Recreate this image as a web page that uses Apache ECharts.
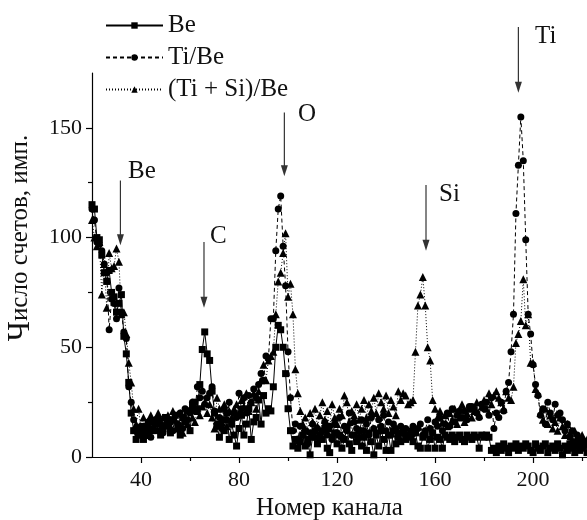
<!DOCTYPE html>
<html>
<head>
<meta charset="utf-8">
<script src="https://cdn.jsdelivr.net/npm/echarts@6/dist/echarts.min.js"></script>
<style>html,body{margin:0;padding:0;background:#fff}#c{width:587px;height:520px}</style>
</head>
<body>
<div id="c"></div>
<script>
// channel numbers start at this value, one value per channel
const firstChannel = 20;
const seriesNames = ['Be', 'Ti/Be', '(Ti + Si)/Be'];

const beCounts = [
  115,113,100,99,92,84,80,85,75,73,
  66,70,74,55,47,34,20,12,8,10,
  13,8,14,11,16,12,15,17,10,13,
  18,15,11,17,19,14,10,18,16,21,
  12,23,25,22,33,49,57,47,44,30,
  20,14,9,17,12,20,8,15,10,5,
  13,19,10,15,22,8,16,18,26,15,
  28,20,22,21,32,50,60,58,50,38,
  22,12,5,8,4,7,10,5,8,1,
  9,12,6,10,8,13,4,2,9,11,
  6,10,4,8,13,6,3,10,7,12,
  5,9,3,11,7,1,10,5,12,8,
  3,10,3,12,6,9,7,11,8,10,
  9,7,11,5,4,9,10,4,8,11,
  4,9,8,4,10,9,8,10,7,9,
  10,8,7,10,9,8,10,9,4,10,
  9,10,9,3,4,2,5,3,6,4,
  2,5,4,6,3,5,4,6,5,3,
  2,6,4,3,5,6,2,4,5,3,
  6,4,1,5,3,6,4,2,5,3,
  4,6,2
];

const tiBeCounts = [
  113,108,98,97,94,88,84,58,72,70,
  63,77,66,57,54,32,25,17,12,10,
  14,10,12,16,9,13,17,12,15,11,
  18,14,16,12,19,15,20,13,22,17,
  20,25,21,32,27,30,24,27,29,32,
  21,15,18,13,22,17,25,15,20,18,
  29,22,27,20,28,25,31,27,33,38,
  35,46,45,63,63,94,113,119,96,78,
  48,27,12,15,8,14,10,12,6,11,
  15,9,13,8,12,16,10,14,8,15,
  11,18,9,14,12,20,10,16,13,9,
  17,12,15,10,18,13,11,17,14,19,
  12,16,10,15,13,11,14,12,13,10,
  12,14,11,13,15,10,12,17,13,11,
  16,14,18,12,15,20,14,22,16,19,
  21,18,21,17,23,23,22,20,18,24,
  22,25,19,27,13,20,18,25,21,30,
  34,48,65,111,133,155,135,99,65,56,
  42,33,28,19,22,15,25,20,17,24,
  19,20,17,12,15,9,12,7,10,6,
  8,5,7
];

const tiSiBeCounts = [
  108,100,96,98,74,88,68,93,86,87,
  95,89,65,66,56,43,34,22,15,22,
  12,18,10,15,19,14,17,20,13,18,
  16,19,14,21,17,13,20,11,18,15,
  22,18,16,21,19,23,25,20,24,18,
  13,27,22,16,24,14,21,18,22,24,
  20,26,23,29,21,25,29,22,30,35,
  42,35,44,46,48,65,80,84,93,102,
  73,79,65,40,29,21,15,18,12,20,
  16,22,14,19,25,17,21,13,24,18,
  15,22,19,28,25,16,21,19,24,17,
  22,26,18,24,21,27,20,29,25,22,
  28,20,26,23,19,30,26,29,28,24,
  25,26,48,69,74,82,69,50,44,26,
  22,18,21,16,19,14,20,17,22,15,
  18,24,16,20,22,18,21,25,19,23,
  26,22,29,24,28,30,27,25,22,30,
  27,26,32,52,56,62,81,60,65,43,
  43,31,29,20,17,22,15,19,13,16,
  12,18,14,10,15,11,8,12,9,6,
  10,7,8
];

// peak annotations (arrow from top to tip, label beside)
const peakLabels = ['Be', 'C', 'O', 'Si', 'Ti'];
const arrowChannel = [31.6, 65.7, 98.5, 156.3, 194.0];
const arrowTop = [126, 98, 157, 124, 196];
const arrowTip = [96.5, 68, 128, 94, 166];
const labelChannel = [34.7, 68.2, 104.1, 161.6, 200.8];
const labelCount = [130, 100.3, 156, 119.5, 191.5];

const xMajorTicks = [40, 80, 120, 160, 200];
const xMinorTicks = [60, 100, 140, 180, 220];
const yMajorTicks = [0, 50, 100, 150];
const yMinorTicks = [25, 75, 125];

const FONT = '"Liberation Serif", "Times New Roman", serif';
const toPairs = arr => arr.map((v, i) => [firstChannel + i, v]);

const chart = echarts.init(document.getElementById('c'), null, {renderer: 'canvas'});

const lineSeries = (name, data, symbol, size, type) => ({
  name, type: 'line', data: toPairs(data),
  symbol, symbolSize: size,
  showAllSymbol: true,
  itemStyle: {color: '#000'},
  lineStyle: {color: '#000', width: 1, type},
  emphasis: {disabled: true},
  z: 3
});

const annotationData = peakLabels.map((n, i) => [arrowChannel[i], arrowTop[i], arrowTip[i], labelChannel[i], labelCount[i]]);

chart.setOption({
  animation: false,
  backgroundColor: '#fff',
  grid: {left: 92, right: 0, top: 73, bottom: 63, containLabel: false, outerBoundsMode: 'none'},
  legend: {
    data: seriesNames,
    orient: 'vertical',
    left: 100, top: 8,
    itemWidth: 57, itemHeight: 8, itemGap: 7,
    textStyle: {fontFamily: FONT, fontSize: 25, color: '#111'},
    selectedMode: false
  },
  xAxis: [{
    type: 'value', min: 20, max: 222, position: 'bottom',
    name: 'Номер канала', nameLocation: 'middle', nameGap: 36,
    nameTextStyle: {fontFamily: FONT, fontSize: 25, color: '#111', padding: [0, 20, 0, 0]},
    axisLine: {lineStyle: {color: '#000', width: 1.2}},
    axisTick: {customValues: xMajorTicks, length: 6, inside: false, lineStyle: {color: '#000', width: 1.2}},
    axisLabel: {customValues: xMajorTicks, fontFamily: FONT, fontSize: 22, color: '#111', margin: 12},
    splitLine: {show: false}
  }, {
    type: 'value', min: 20, max: 222, position: 'bottom', offset: 0,
    axisLine: {show: false},
    axisTick: {customValues: xMinorTicks, length: 4, lineStyle: {color: '#000', width: 1.2}},
    axisLabel: {show: false},
    splitLine: {show: false}
  }],
  yAxis: [{
    type: 'value', min: 0, max: 175, position: 'left',
    name: '{big|Ч}исло счетов, имп.', nameLocation: 'middle', nameGap: 56, nameRotate: 90,
    nameTextStyle: {fontFamily: FONT, fontSize: 25, color: '#111', padding: [0, 0, 0, 54],
      rich: {big: {fontFamily: FONT, fontSize: 31, color: '#111'}}},
    axisLine: {lineStyle: {color: '#000', width: 1.2}},
    axisTick: {customValues: yMajorTicks, length: 6, lineStyle: {color: '#000', width: 1.2}},
    axisLabel: {customValues: yMajorTicks, fontFamily: FONT, fontSize: 22, color: '#111', margin: 10},
    splitLine: {show: false}
  }, {
    type: 'value', min: 0, max: 175, position: 'left', offset: 0,
    axisLine: {show: false},
    axisTick: {customValues: yMinorTicks, length: 4, lineStyle: {color: '#000', width: 1.2}},
    axisLabel: {show: false},
    splitLine: {show: false}
  }],
  series: [
    lineSeries(seriesNames[0], beCounts, 'rect', 7, 'solid'),
    lineSeries(seriesNames[1], tiBeCounts, 'circle', 7, [4, 3]),
    lineSeries(seriesNames[2], tiSiBeCounts, 'triangle', 8, [1, 2]),
    {
      type: 'custom', name: 'peaks', silent: true, clip: false, z: 5,
      data: annotationData,
      encode: {x: [0, 3], y: [1, 2, 4]},
      renderItem: (params, api) => {
        const p1 = api.coord([api.value(0), api.value(1)]);
        const p2 = api.coord([api.value(0), api.value(2)]);
        const pl = api.coord([api.value(3), api.value(4)]);
        return {type: 'group', children: [
          {type: 'line', shape: {x1: p1[0], y1: p1[1], x2: p2[0], y2: p2[1] - 8}, style: {stroke: '#333', lineWidth: 1.2}},
          {type: 'polygon', shape: {points: [[p2[0] - 3.5, p2[1] - 11], [p2[0] + 3.5, p2[1] - 11], [p2[0], p2[1]]]}, style: {fill: '#333'}},
          {type: 'text', x: pl[0], y: pl[1], style: {text: peakLabels[params.dataIndex], font: '25px ' + FONT, fill: '#111', align: 'left', verticalAlign: 'middle'}}
        ]};
      }
    }
  ]
});
</script>
</body>
</html>
